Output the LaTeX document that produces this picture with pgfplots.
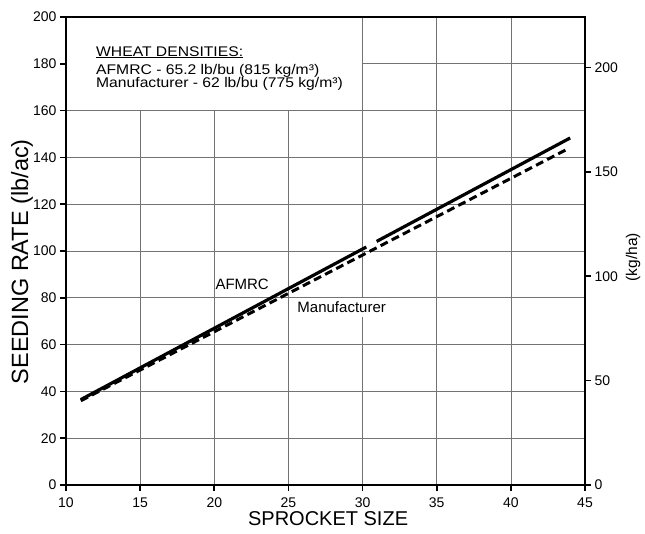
\documentclass[border=0pt]{standalone}
\usepackage{fontspec}
\setmainfont{Liberation Sans}
\usepackage{pgfplots}
\pgfplotsset{compat=1.18}
\begin{document}
\begin{tikzpicture}
\path[use as bounding box] (-66pt,-49pt) rectangle (579pt,485pt);
\pgfplotsset{every axis/.append style={scale only axis, width=519pt, height=468pt,
  /pgf/number format/assume math mode=true, tick align=outside, major tick length=6pt,
  tick style={line width=1.6pt,black}, axis line style={line width=2pt},
  tick label style={font=\fontsize{14}{16}\selectfont}}}
\begin{axis}[at={(0,0)}, anchor=south west, xmin=10, xmax=45, ymin=0, ymax=200,
  xtick={10,15,...,45}, ytick={0,20,...,200}, xtick pos=bottom, ytick pos=left,
  xticklabel style={yshift=-3pt},
  grid=major, major grid style={black!55, line width=0.7pt},
  xlabel={SPROCKET SIZE}, ylabel={SEEDING RATE (lb/ac)},
  xlabel style={at={(axis description cs:0.505,-0.0726)}, anchor=center, font=\fontsize{20}{22}\selectfont},
  ylabel style={at={(axis description cs:-0.0848,0.477)}, anchor=center, font=\fontsize{23.5}{25}\selectfont},
  clip=false]
\fill[white] (axis cs:10.08,160.4) rectangle (axis cs:29.97,199.5);
\addplot[black, line width=3.2pt] coordinates {(11,36.5) (30.25,101.7)};
\addplot[black, line width=3.2pt] coordinates {(30.95,104.1) (44,148.3)};
\addplot[black, line width=3pt, dash pattern=on 8pt off 4.5pt] coordinates {(11,36) (43.8,143.5)};
\node[font=\fontsize{15}{17}\selectfont] at (axis cs:21.88,85.9) {AFMRC};
\node[fill=white, inner sep=4pt, font=\fontsize{15}{17}\selectfont] at (axis cs:28.59,75.8) {Manufacturer};
\node[anchor=base west, inner sep=0pt, xscale=1.12, font=\fontsize{14}{16}\selectfont] at (axis cs:12.02,183.3) {\underline{WHEAT DENSITIES:}};
\node[anchor=base west, inner sep=0pt, xscale=1.12, font=\fontsize{14}{16}\selectfont] at (axis cs:12.02,175.5) {AFMRC - 65.2 lb/bu (815 kg/m³)};
\node[anchor=base west, inner sep=0pt, xscale=1.12, font=\fontsize{14}{16}\selectfont] at (axis cs:12.02,169.8) {Manufacturer - 62 lb/bu (775 kg/m³)};
\end{axis}
\begin{axis}[at={(0,0)}, anchor=south west, xmin=10, xmax=45, ymin=0, ymax=224.17,
  axis x line=none, axis y line*=right, ytick={0,50,...,200},
  ylabel={(kg/ha)},
  ylabel style={at={(axis description cs:1.0925,0.487)}, anchor=center, font=\fontsize{15.5}{17}\selectfont}]
\end{axis}
\end{tikzpicture}
\end{document}
